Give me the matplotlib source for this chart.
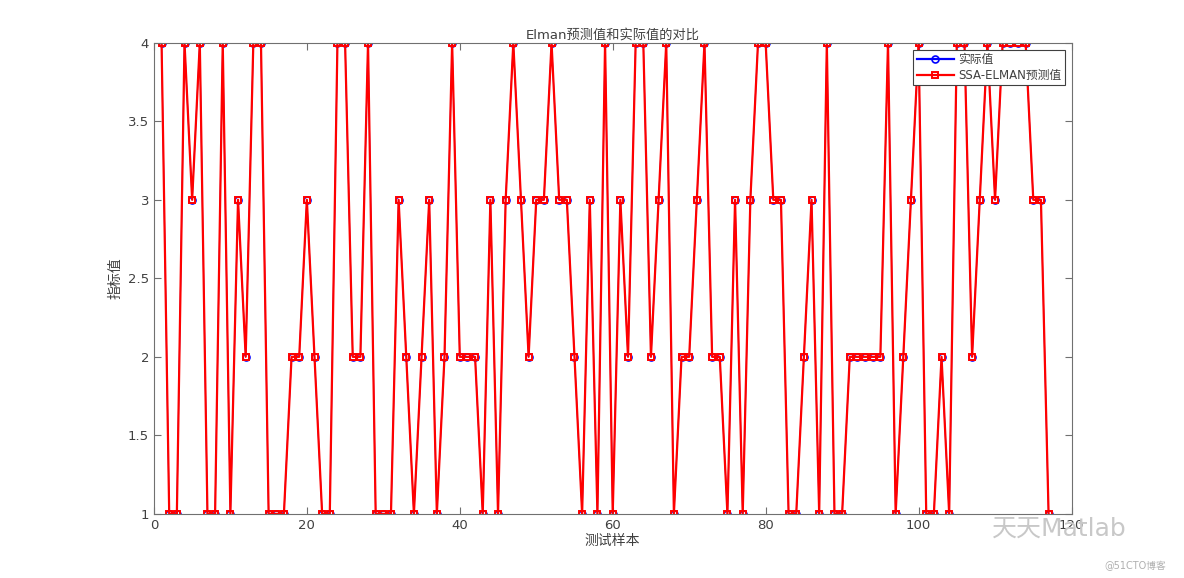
import matplotlib
matplotlib.use('Agg')
import matplotlib.pyplot as plt
import numpy as np

plt.rcParams['font.family'] = ['DejaVu Sans', 'Noto Sans CJK SC']

# actual values (实际值) for test samples 1..117
actual = [4, 1, 1, 4, 3, 4, 1, 1, 4, 1,
          3, 2, 4, 4, 1, 1, 1, 2, 2, 3,
          2, 1, 1, 4, 4, 2, 2, 4, 1, 1,
          1, 3, 2, 1, 2, 3, 1, 2, 4, 2,
          2, 2, 1, 3, 1, 3, 4, 3, 2, 3,
          3, 4, 3, 3, 2, 1, 3, 1, 4, 1,
          3, 2, 4, 4, 2, 3, 4, 1, 2, 2,
          3, 4, 2, 2, 1, 3, 1, 3, 4, 4,
          3, 3, 1, 1, 2, 3, 1, 4, 1, 1,
          2, 2, 2, 2, 2, 4, 1, 2, 3, 4,
          1, 1, 2, 1, 4, 4, 2, 3, 4, 3,
          4, 4, 4, 4, 3, 3, 1]
# SSA-ELMAN prediction (rounded class), same as actual here
predicted = list(actual)

samples = np.arange(1, len(actual) + 1)
xticks = [0, 20, 40, 60, 80, 100, 120]
yticks = [1, 1.5, 2, 2.5, 3, 3.5, 4]

txt = '#404040'
axc = '#707070'

fig = plt.figure(figsize=(11.84, 5.78), dpi=100)
ax = fig.add_axes([0.13, 0.111, 0.775, 0.815])

# the blue line sits under the red one; only its markers peek out
l1, = ax.plot(samples, actual, '-', color='#0000ff', lw=0.8)
ax.plot(samples, actual, 'o', color='#0000ff', ms=5, mfc='none', mew=1.2)
ax.plot(samples, predicted, '-s', color='#ff0000', lw=1.6, ms=4.5,
        mfc='none', mew=1.4)

# legend handles
h1, = ax.plot([], [], '-o', color='#0000ff', lw=1.6, ms=5, mfc='none', mew=1.2)
h2, = ax.plot([], [], '-s', color='#ff0000', lw=1.6, ms=4.5, mfc='none', mew=1.4)

ax.set_xlim(0, 120)
ax.set_ylim(1, 4)
ax.set_xticks(xticks)
ax.set_yticks(yticks)
ax.set_yticklabels(['1', '1.5', '2', '2.5', '3', '3.5', '4'])
ax.tick_params(direction='in', length=5, width=0.8, colors=axc,
               labelcolor=txt, labelsize=9.5, top=True, right=True)
for s in ax.spines.values():
    s.set_color(axc)
    s.set_linewidth(0.8)

ax.set_title('Elman预测值和实际值的对比', fontsize=9.5, color=txt, pad=3)
ax.set_xlabel('测试样本', fontsize=10, color=txt, labelpad=2)
ax.set_ylabel('指标值', fontsize=10, color=txt, labelpad=4)

leg = ax.legend([h1, h2], ['实际值', 'SSA-ELMAN预测值'], loc='upper right',
                bbox_to_anchor=(0.995, 0.99), fontsize=8.5,
                fancybox=False, framealpha=1, edgecolor='#404040',
                borderpad=0.3, labelspacing=0.2, handlelength=3.2,
                handletextpad=0.3, borderaxespad=0.2)
leg.get_frame().set_linewidth(0.8)
for t in leg.get_texts():
    t.set_color(txt)

# watermark
fig.text(0.838, 0.085, '天天Matlab', fontsize=18, color='#c8c8c8',
         ha='left', va='center')
fig.text(0.985, 0.02, '@51CTO博客', fontsize=7, color='#b0b0b0',
         ha='right', va='center')

fig.savefig('out.png', dpi=100)
